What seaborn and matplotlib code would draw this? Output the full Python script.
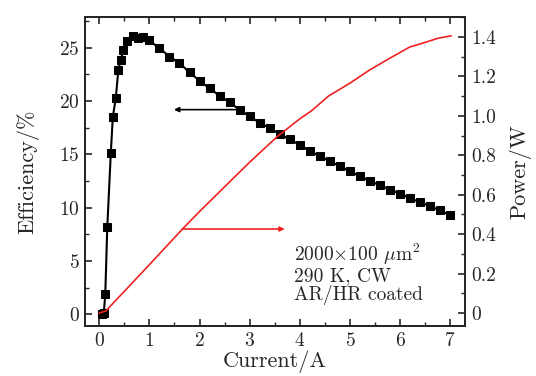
import numpy as np
import pandas as pd
import matplotlib
matplotlib.use("Agg")
import matplotlib.pyplot as plt
from matplotlib.ticker import MultipleLocator, FuncFormatter
import seaborn as sns

# efficiency curve (left axis)
current_eff = [0.05, 0.09, 0.12, 0.16, 0.23, 0.27, 0.33, 0.38, 0.43, 0.48, 0.56, 0.67,
               0.78, 0.87, 0.99, 1.2, 1.4, 1.6, 1.8, 2.0, 2.2, 2.4, 2.6, 2.8, 3.0, 3.2,
               3.4, 3.6, 3.8, 4.0, 4.2, 4.4, 4.6, 4.8, 5.0, 5.2, 5.4, 5.6, 5.8, 6.0, 6.2,
               6.4, 6.6, 6.8, 7.0]
efficiency = [0.0, 0.1, 1.9, 8.2, 15.1, 18.5, 20.3, 22.9, 23.9, 24.8, 25.6, 26.1,
              25.9, 26.0, 25.7, 24.97, 24.18, 23.57, 22.69, 21.91, 21.19, 20.51, 19.88,
              19.19, 18.57, 17.95, 17.48, 16.9, 16.4, 15.9, 15.3, 14.85, 14.35, 13.9,
              13.4, 12.95, 12.5, 12.1, 11.7, 11.3, 10.9, 10.5, 10.14, 9.74, 9.3]

# output power curve (right axis)
current_pow = [0.0, 0.13, 0.5, 1.0, 1.66, 2.0, 2.5, 3.0, 3.55, 4.0, 4.23, 4.57, 5.0,
               5.4, 5.8, 6.19, 6.49, 6.76, 7.02]
power = [0.0, 0.01, 0.11, 0.245, 0.426, 0.515, 0.64, 0.765, 0.895, 0.985, 1.025, 1.10,
         1.166, 1.234, 1.293, 1.349, 1.372, 1.394, 1.406]

df_eff = pd.DataFrame({"current": current_eff, "eff": efficiency})
df_pow = pd.DataFrame({"current": current_pow, "power": power})

sns.set_theme(style="ticks")
plt.rcParams.update({
    "font.family": "serif",
    "font.serif": ["cmr10"],
    "mathtext.fontset": "cm",
    "axes.formatter.use_mathtext": True,
    "font.size": 14,
    "axes.linewidth": 1.4,
    "xtick.direction": "in",
    "ytick.direction": "in",
    "xtick.major.size": 5,
    "ytick.major.size": 5,
    "xtick.minor.size": 3,
    "ytick.minor.size": 3,
    "xtick.major.width": 1.2,
    "ytick.major.width": 1.2,
    "xtick.minor.width": 1.0,
    "ytick.minor.width": 1.0,
    "xtick.labelsize": 14,
    "ytick.labelsize": 14,
    "axes.labelsize": 16,
})

fig = plt.figure(figsize=(5.36, 3.76), dpi=100)
ax = fig.add_axes([0.159, 0.133, 0.709, 0.822])
ax2 = ax.twinx()

sns.lineplot(data=df_eff, x="current", y="eff", ax=ax, color="black", lw=1.5,
             marker="s", markersize=5.5, markeredgecolor="black", markerfacecolor="black")
sns.lineplot(data=df_pow, x="current", y="power", ax=ax2, color="#ee2222", lw=1.2)

ax.set_xlim(-0.28, 7.3)
ax.set_ylim(-1.1, 27.9)
ax2.set_ylim(-0.066, 1.502)

ax.xaxis.set_major_locator(MultipleLocator(1))
ax.xaxis.set_minor_locator(MultipleLocator(0.5))
ax.yaxis.set_major_locator(MultipleLocator(5))
ax.yaxis.set_minor_locator(MultipleLocator(2.5))
ax2.yaxis.set_major_locator(MultipleLocator(0.2))
ax2.yaxis.set_minor_locator(MultipleLocator(0.1))
ax2.yaxis.set_major_formatter(FuncFormatter(lambda v, p: "0" if abs(v) < 1e-9 else f"{v:.1f}"))

ax.tick_params(axis="x", which="both", top=True, pad=4)
ax.tick_params(axis="y", which="both", right=False, pad=4)
ax2.tick_params(axis="y", which="both", pad=4)

ax.set_xlabel("Current/A", labelpad=1)
ax.set_ylabel("Efficiency/%", labelpad=14)
ax2.set_ylabel("Power/W", labelpad=9)

# arrows pointing to the relevant axis
ax.annotate("", xy=(1.49, 19.2), xytext=(2.80, 19.2),
            arrowprops=dict(arrowstyle="-|>", color="black", lw=1.2,
                            mutation_scale=7, shrinkA=0, shrinkB=0))
ax2.annotate("", xy=(3.7, 0.426), xytext=(1.66, 0.426),
             arrowprops=dict(arrowstyle="-|>", color="#ee2222", lw=1.2,
                             mutation_scale=7, shrinkA=0, shrinkB=0))

ax.text(3.88, 0.9, "2000$\\times$100 $\\mathrm{\\mu}$m$^2$\n290 K, CW\nAR/HR coated",
        fontsize=14, ha="left", va="bottom", linespacing=1.0)

fig.savefig("out.png", dpi=100)
